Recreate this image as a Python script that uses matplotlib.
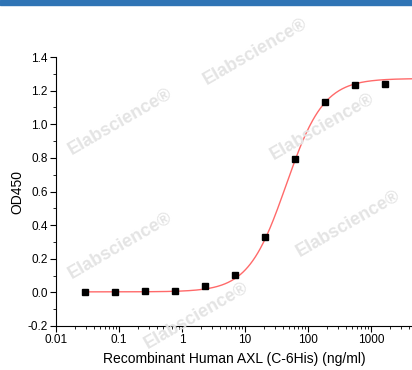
import numpy as np
import matplotlib
matplotlib.use("Agg")
import matplotlib.pyplot as plt
from matplotlib.patches import Rectangle
from matplotlib.ticker import MultipleLocator, LogLocator, NullFormatter, FixedLocator

plt.rcParams['font.family'] = ['Liberation Sans', 'DejaVu Sans']

# measured points (3-fold dilution series)
conc = [0.0285, 0.0855, 0.2566, 0.77, 2.31, 6.93, 20.8, 62.4, 187, 562, 1685]
od450 = [0.000, 0.000, 0.008, 0.008, 0.036, 0.103, 0.329, 0.796, 1.135, 1.236, 1.240]

# 4PL fit
bottom, top, ec50, hill = 0.003, 1.272, 45.0, 1.45

x_ticks = [0.01, 0.1, 1, 10, 100, 1000]
x_ticklabels = ['0.01', '0.1', '1', '10', '100', '1000']

# watermark positions (figure pixel coords, from the top-left)
wm_pos = [(120, 122), (255, 52), (322, 127), (120, 246), (348, 224), (196, 316)]

fig = plt.figure(figsize=(4.12, 3.70), dpi=100)
W, H = 412, 370

# blue band on top
fig.patches.append(Rectangle((0, 1 - 4.5 / H), 1, 4.5 / H, transform=fig.transFigure,
                             color='#2f74b5', zorder=0))

ax = fig.add_axes([56 / W, 1 - 326 / H, 1 - 56 / W, (326 - 57) / H])

xs = np.logspace(np.log10(0.0285), np.log10(4500), 400)
ys = bottom + (top - bottom) / (1 + (ec50 / xs) ** hill)
ax.plot(xs, ys, color='#ff6a6a', lw=1.0, zorder=3)
ax.plot(conc, od450, 's', color='black', ms=4.6, zorder=4)

ax.set_xscale('log')
ax.set_xlim(0.01, 4500)
ax.set_ylim(-0.2, 1.4)
ax.xaxis.set_major_locator(FixedLocator(x_ticks))
ax.set_xticklabels(x_ticklabels)
ax.xaxis.set_minor_locator(LogLocator(base=10, subs=np.arange(2, 10)))
ax.xaxis.set_minor_formatter(NullFormatter())
ax.yaxis.set_major_locator(MultipleLocator(0.2))
ax.yaxis.set_minor_locator(MultipleLocator(0.1))
ax.yaxis.set_major_formatter(plt.FuncFormatter(lambda v, p: '%.1f' % v))

for s in ['top', 'right']:
    ax.spines[s].set_visible(False)
ax.tick_params(which='major', direction='out', length=4, width=0.8, labelsize=8.5, pad=2)
ax.tick_params(which='minor', direction='out', length=2.5, width=0.6)

ax.set_xlabel('Recombinant Human AXL (C-6His) (ng/ml)', fontsize=10, labelpad=4)
ax.set_ylabel('OD450', fontsize=10, labelpad=2)

for (px, py) in wm_pos:
    fig.text(px / W, 1 - py / H, 'Elabscience\u00ae', fontsize=13, fontweight='bold',
             color='#e4e4e4', rotation=30, ha='center', va='center', zorder=1)

fig.savefig('out.png', dpi=100)
